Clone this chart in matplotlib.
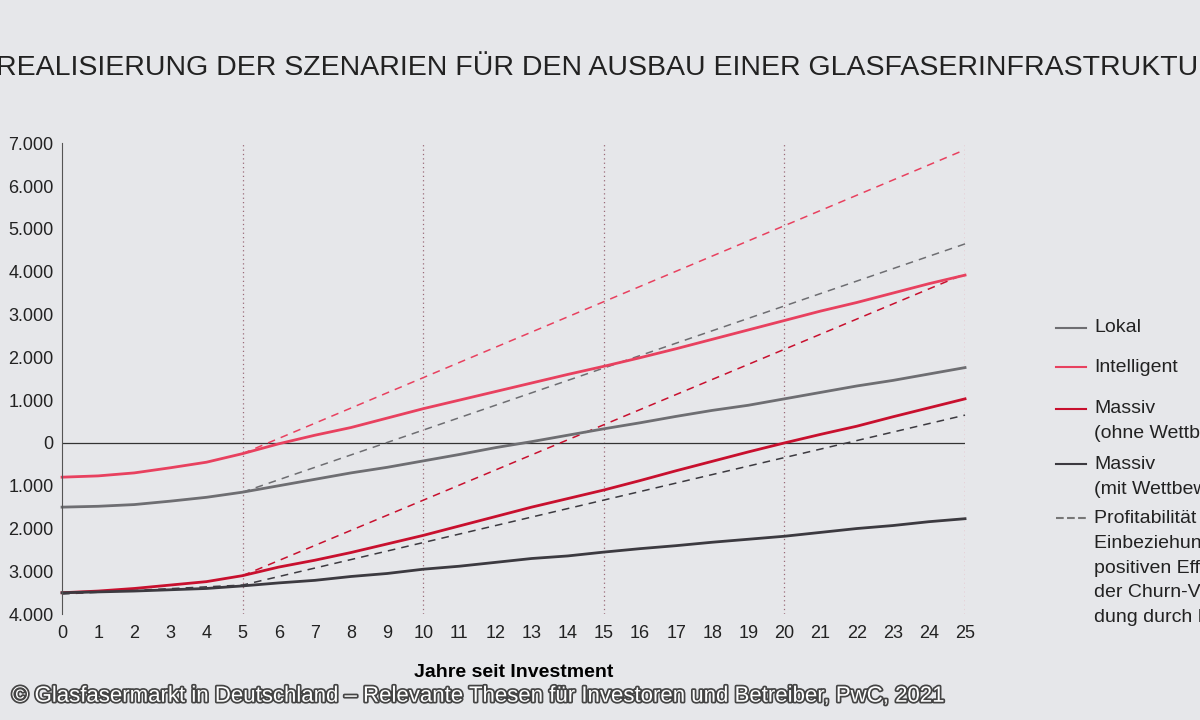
import matplotlib
matplotlib.use("Agg")
import matplotlib.pyplot as plt
import matplotlib.patheffects as pe

plt.rcParams["font.family"] = "Liberation Sans"

years = list(range(26))
lokal = [-1500,-1480,-1440,-1360,-1270,-1150,-1000,-850,-700,-570,-420,-270,-110,30,180,330,470,620,760,880,1030,1180,1330,1460,1610,1760]
intelligent = [-800,-770,-700,-580,-450,-250,-20,180,360,580,800,1000,1200,1400,1600,1790,1990,2200,2420,2640,2860,3080,3280,3500,3720,3920]
massiv_ohne = [-3500,-3460,-3400,-3320,-3240,-3100,-2900,-2740,-2560,-2360,-2160,-1940,-1720,-1500,-1300,-1100,-880,-650,-430,-210,0,200,390,610,820,1030]
massiv_mit = [-3500,-3480,-3460,-3430,-3400,-3340,-3270,-3210,-3120,-3050,-2950,-2880,-2790,-2700,-2640,-2550,-2470,-2400,-2320,-2250,-2180,-2090,-2000,-1930,-1840,-1770]
dash_x = [5, 25]
dash_intelligent = [-250, 6850]
dash_lokal = [-1150, 4650]
dash_ohne = [-3100, 3950]
dash_mit_x = [0, 5, 25]
dash_mit = [-3530, -3320, 650]
yticks = [7000,6000,5000,4000,3000,2000,1000,0,-1000,-2000,-3000,-4000]
ylabels = ["7.000","6.000","5.000","4.000","3.000","2.000","1.000","0","1.000","2.000","3.000","4.000"]

bg = "#e6e7ea"
c_lokal = "#6e6e72"
c_int = "#e8415f"
c_ohne = "#c8102e"
c_mit = "#3c3a40"

fig = plt.figure(figsize=(12, 7.2), dpi=100, facecolor=bg)
ax = fig.add_axes([0.0517, 0.147, 0.7525, 0.654], facecolor=bg)
ax.set_xlim(0, 25)
ax.set_ylim(-4000, 7000)

for v in [5, 10, 15, 20]:
    ax.axvline(v, color="#9a6a78", ls=(0, (1, 2.5)), lw=0.9)
ax.axvline(25, color=c_int, ls=(0, (1, 2.5)), lw=0.9)
ax.axhline(0, color="#333", lw=0.9)

ax.plot(dash_x, dash_intelligent, color=c_int, lw=1.1, ls=(0, (5, 4)), clip_on=False)
ax.plot(dash_x, dash_lokal, color=c_lokal, lw=1.1, ls=(0, (5, 4)), clip_on=False)
ax.plot(dash_x, dash_ohne, color=c_ohne, lw=1.1, ls=(0, (5, 4)), clip_on=False)
ax.plot(dash_mit_x, dash_mit, color=c_mit, lw=1.1, ls=(0, (5, 4)), clip_on=False)

for data, c in [(lokal, c_lokal), (intelligent, c_int), (massiv_ohne, c_ohne), (massiv_mit, c_mit)]:
    ax.plot(years, data, color=c, lw=2, clip_on=False)

ax.set_xticks(years)
ax.set_yticks(yticks)
ax.set_yticklabels(ylabels)
ax.tick_params(length=0, labelsize=13, colors="#222")
ax.tick_params(axis="y", pad=6)
ax.tick_params(axis="x", pad=8)
for s in ["top", "right", "bottom"]:
    ax.spines[s].set_visible(False)
ax.spines["left"].set_color("#555")
ax.set_xlabel("Jahre seit Investment", fontsize=14, fontweight="bold", labelpad=16)

fig.text(-0.003, 0.905, "REALISIERUNG DER SZENARIEN FÜR DEN AUSBAU EINER GLASFASERINFRASTRUKTUR",
         fontsize=20.5, color="#222", va="center")

lx, tx = 0.880, 0.912
entries = [
    (0.545, c_lokal, "-", ["Lokal"]),
    (0.490, c_int, "-", ["Intelligent"]),
    (0.432, c_ohne, "-", ["Massiv", "(ohne Wettbewerb)"]),
    (0.355, c_mit, "-", ["Massiv", "(mit Wettbewerb)"]),
    (0.280, "#777", "--", ["Profitabilität bei", "Einbeziehung der", "positiven Effekte", "der Churn-Vermei-", "dung durch FTTH"]),
]
for y, c, ls, lines in entries:
    fig.add_artist(plt.Line2D([lx, lx + 0.025], [y, y], color=c, lw=1.5, ls=ls, transform=fig.transFigure))
    for i, t in enumerate(lines):
        fig.text(tx, y - i * 0.0345, t, fontsize=14, color="#222", va="center")

fig.text(0.01, 0.033, "© Glasfasermarkt in Deutschland – Relevante Thesen für Investoren und Betreiber, PwC, 2021",
         fontsize=16, color="white", va="center",
         path_effects=[pe.withStroke(linewidth=2.5, foreground="#444")])

fig.savefig("out.png", dpi=100, facecolor=bg)
